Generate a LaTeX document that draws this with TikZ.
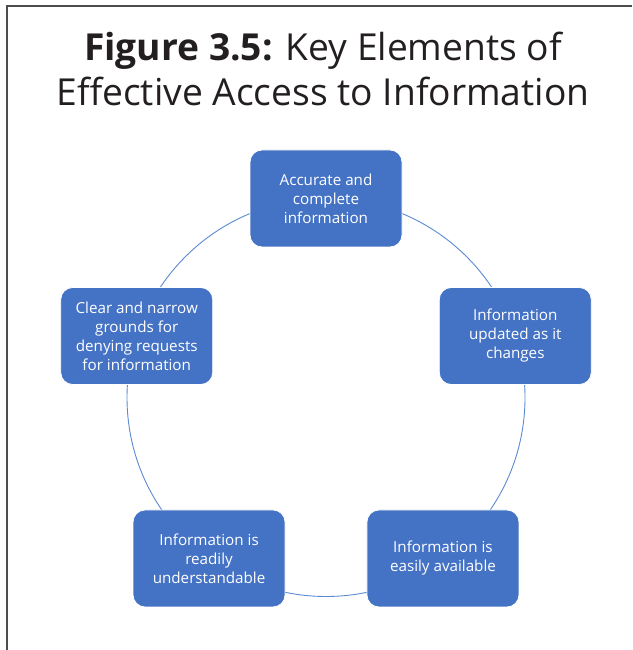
\documentclass[tikz,border=0pt]{standalone}
\usepackage{fontspec}
\setmainfont{Open Sans}
\usepackage{tikz}
\usetikzlibrary{calc}
\definecolor{boxblue}{HTML}{4472C4}
\definecolor{ringblue}{HTML}{5B8AD3}
\definecolor{titlegray}{HTML}{231F20}
\definecolor{framegray}{HTML}{4D4D4D}

\begin{document}
\begin{tikzpicture}[x=1pt,y=1pt,
    keybox/.style={draw=white, line width=0.8pt, fill=boxblue, rounded corners=12pt,
        minimum width=152pt, minimum height=97pt, inner sep=0pt, align=center,
        text=white, font=\fontsize{15.2}{19}\selectfont},
    titleline/.style={anchor=base, inner sep=0pt, text=titlegray,
        font=\fontsize{37.2}{46}\selectfont}]
    \useasboundingbox (0,0) rectangle (632,650);
    % frame
    \draw[framegray, line width=1.3pt] (7,0) -- (7,644) -- (632,644);
    % title
    \node[titleline] (title1) at (323,589) {\textbf{Figure 3.5:} Key Elements of};
    \node[titleline] (title2) at (323,544) {Effective Access to Information};
    % ring
    \coordinate (ctr) at (326,252.5);
    \draw[ringblue, line width=0.9pt] (ctr) circle (199pt);
    \node[keybox] (accurate) at ($(ctr)+(90:199)$) {Accurate and\\complete\\information};
    \node[keybox] (updated) at ($(ctr)+(18:199)$) {Information\\updated as it\\changes};
    \node[keybox] (available) at ($(ctr)+(-54:199)$) {Information is\\easily available};
    \node[keybox] (readily) at ($(ctr)+(-126:199)$) {Information is\\readily\\understandable};
    \node[keybox] (grounds) at ($(ctr)+(162:199)$) {Clear and narrow\\grounds for\\denying requests\\for information};
\end{tikzpicture}
\end{document}
